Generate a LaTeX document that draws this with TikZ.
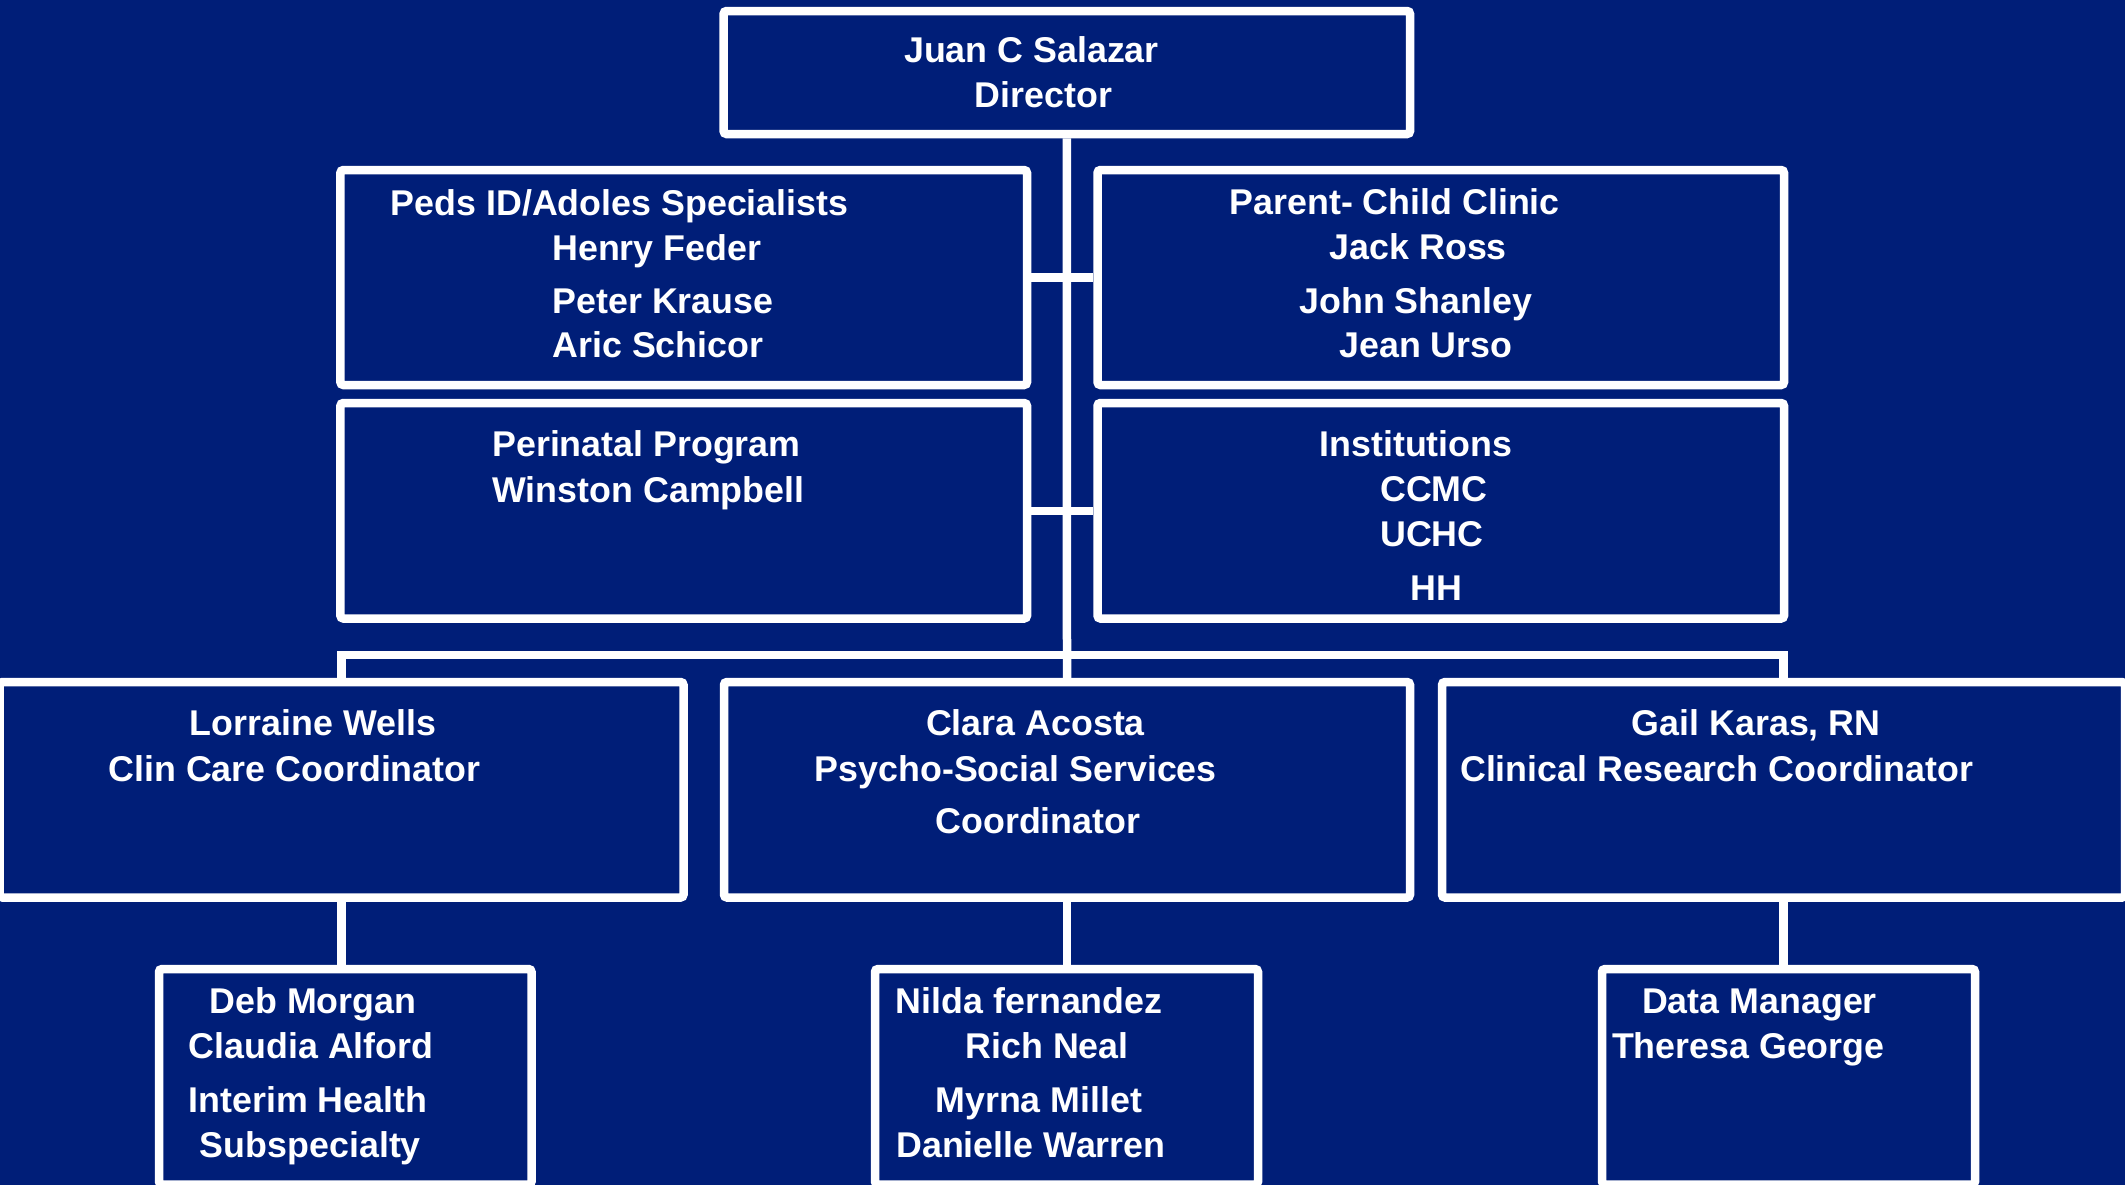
\documentclass[tikz,border=0pt]{standalone}
\usepackage{fontspec}
\setmainfont{Liberation Sans}
\definecolor{navy}{RGB}{0,30,120}
\begin{document}
\begin{tikzpicture}[x=0.5pt,y=-0.5pt,
  box/.style={draw=white, line width=4.25pt, fill=navy, rounded corners=1.5pt, inner sep=0pt},
  conn/.style={draw=white, line width=4.25pt},
  lbl/.style={text=white, font=\fontsize{17.9}{21}\selectfont\bfseries, anchor=base, inner sep=0pt}]
\useasboundingbox (0,0) rectangle (2125,1185);
\fill[navy] (0,0) rectangle (2125,1185);
% boxes
\node[box, minimum width=343.2pt, minimum height=61.5pt] (top) at (1066.8,72.5) {};
\node[box, minimum width=343.3pt, minimum height=107.5pt] (peds) at (683.7,277.5) {};
\node[box, minimum width=343.25pt, minimum height=107.5pt] (parent) at (1440.75,277.5) {};
\node[box, minimum width=343.3pt, minimum height=107.75pt] (peri) at (683.7,510.75) {};
\node[box, minimum width=343.25pt, minimum height=107.75pt] (inst) at (1440.75,510.75) {};
\node[box, minimum width=342pt, minimum height=107.75pt] (lorr) at (341.5,789.75) {};
\node[box, minimum width=343pt, minimum height=107.75pt] (clara) at (1067,789.75) {};
\node[box, minimum width=341.5pt, minimum height=107.75pt] (gail) at (1783.5,789.75) {};
\node[box, minimum width=186.25pt, minimum height=107.75pt] (deb) at (345.25,1076.75) {};
\node[box, minimum width=191.5pt, minimum height=107.75pt] (nilda) at (1066.5,1076.75) {};
\node[box, minimum width=186.5pt, minimum height=107.75pt] (data) at (1788.5,1076.75) {};
% connectors
\coordinate (bar) at (1067,655);
\draw[conn] (top.south) -- (clara.north);
\draw[conn] (lorr.north) |- (bar) -| (gail.north);
\draw[conn] (peds.east) -- (parent.west);
\draw[conn] (peri.east) -- (inst.west);
\draw[conn] (lorr.south) -- (lorr.south |- deb.north);
\draw[conn] (clara.south) -- (clara.south |- nilda.north);
\draw[conn] (gail.south) -- (gail.south |- data.north);
% texts
\node[lbl] (t1) at (1031.5,62) {Juan C Salazar};
\node[lbl] (t2) at (1043.3,107) {Director};
\node[lbl] (t3) at (619.7,215) {Peds ID/Adoles Specialists};
\node[lbl] (t4) at (656.8,260) {Henry Feder};
\node[lbl] (t5) at (663.1,313) {Peter Krause};
\node[lbl] (t6) at (658,357) {Aric Schicor};
\node[lbl] (t7) at (646.5,456) {Perinatal Program};
\node[lbl] (t8) at (648.4,502) {Winston Campbell};
\node[lbl] (t9) at (1394.7,214) {Parent- Child Clinic};
\node[lbl] (t10) at (1418.3,259) {Jack Ross};
\node[lbl] (t11) at (1415.8,313) {John Shanley};
\node[lbl] (t12) at (1426,357) {Jean Urso};
\node[lbl] (t13) at (1416,456) {Institutions};
\node[lbl] (t14) at (1433.9,501) {CCMC};
\node[lbl] (t15) at (1431.9,546) {UCHC};
\node[lbl] (t16) at (1436.2,600) {HH};
\node[lbl] (t17) at (312.9,735) {Lorraine Wells};
\node[lbl] (t18) at (294.5,781) {Clin Care Coordinator};
\node[lbl] (t19) at (1035.5,735) {Clara Acosta};
\node[lbl] (t20) at (1015.8,781) {Psycho-Social Services};
\node[lbl] (t21) at (1037.9,833) {Coordinator};
\node[lbl] (t22) at (1756.2,735) {Gail Karas, RN};
\node[lbl] (t23) at (1716.8,781) {Clinical Research Coordinator};
\node[lbl] (t24) at (312.9,1013) {Deb Morgan};
\node[lbl] (t25) at (311.1,1058) {Claudia Alford};
\node[lbl] (t26) at (308,1112) {Interim Health};
\node[lbl] (t27) at (310.4,1157) {Subspecialty};
\node[lbl] (t28) at (1029.2,1013) {Nilda fernandez};
\node[lbl] (t29) at (1047.1,1058) {Rich Neal};
\node[lbl] (t30) at (1038.9,1112) {Myrna Millet};
\node[lbl] (t31) at (1030.9,1157) {Danielle Warren};
\node[lbl] (t32) at (1759.5,1013) {Data Manager};
\node[lbl] (t33) at (1748.3,1058) {Theresa George};
\end{tikzpicture}
\end{document}
